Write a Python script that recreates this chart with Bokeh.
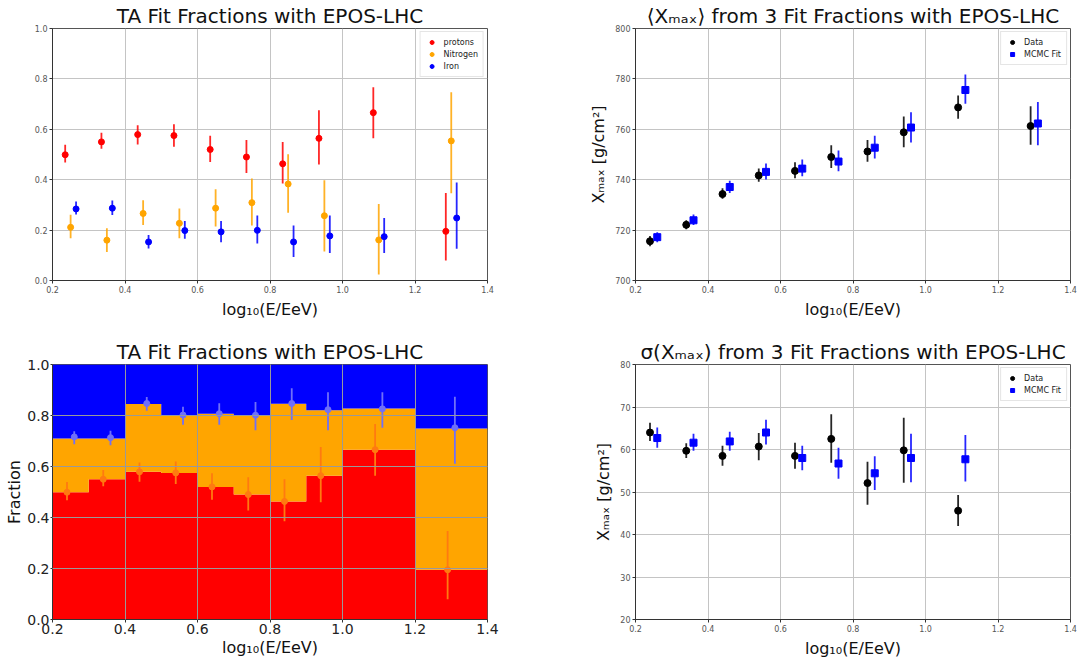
import numpy as np
from bokeh.plotting import figure
from bokeh.layouts import row, column
from bokeh.models import (FixedTicker, PrintfTickFormatter, Legend, LegendItem,
                          ColumnDataSource, Range1d)
from bokeh.embed import file_html
from bokeh.resources import INLINE

# ---------------- data ----------------
e_lo = [0.2, 0.3, 0.4, 0.5, 0.6, 0.7, 0.8, 0.9, 1.0, 1.2]
e_hi = [0.3, 0.4, 0.5, 0.6, 0.7, 0.8, 0.9, 1.0, 1.2, 1.4]
log_e = [0.25, 0.35, 0.45, 0.55, 0.65, 0.75, 0.85, 0.95, 1.1, 1.3]

p_frac = [0.499, 0.550, 0.579, 0.575, 0.520, 0.490, 0.463, 0.564, 0.666, 0.195]
p_lo = [0.468, 0.523, 0.540, 0.531, 0.470, 0.427, 0.385, 0.460, 0.564, 0.079]
p_hi = [0.539, 0.586, 0.616, 0.620, 0.574, 0.558, 0.550, 0.676, 0.767, 0.347]

n_frac = [0.211, 0.160, 0.266, 0.227, 0.287, 0.309, 0.383, 0.257, 0.161, 0.554]
n_lo = [0.168, 0.113, 0.220, 0.168, 0.214, 0.218, 0.269, 0.115, 0.024, 0.346]
n_hi = [0.261, 0.207, 0.318, 0.286, 0.362, 0.405, 0.501, 0.398, 0.304, 0.747]

fe_frac = [0.284, 0.287, 0.153, 0.198, 0.193, 0.199, 0.153, 0.177, 0.174, 0.248]
fe_lo = [0.262, 0.260, 0.127, 0.166, 0.152, 0.147, 0.093, 0.109, 0.109, 0.126]
fe_hi = [0.313, 0.317, 0.181, 0.236, 0.236, 0.258, 0.218, 0.258, 0.248, 0.389]

xm_data = [715.6, 722.1, 734.3, 741.7, 743.5, 749.0, 751.2, 758.8, 768.7, 761.3]
xm_data_lo = [713.6, 720.3, 732.4, 739.2, 740.6, 744.6, 747.1, 752.9, 764.2, 753.9]
xm_data_hi = [717.7, 723.9, 736.6, 744.4, 746.9, 753.7, 755.8, 765.1, 773.4, 769.1]
xm_fit = [717.2, 723.9, 737.1, 743.1, 744.4, 747.2, 752.7, 760.7, 775.6, 762.3]
xm_fit_lo = [715.2, 722.0, 734.7, 740.1, 741.4, 743.4, 748.4, 754.8, 770.1, 753.7]
xm_fit_hi = [719.1, 726.2, 739.6, 746.4, 748.0, 751.6, 757.4, 766.8, 781.7, 770.8]

nan = float("nan")
sg_data = [64.0, 59.7, 58.5, 60.7, 58.5, 62.5, 52.1, 59.8, 45.6, nan]
sg_data_lo = [62.0, 58.0, 56.2, 57.5, 55.5, 56.9, 47.0, 52.2, 42.0, nan]
sg_data_hi = [66.3, 61.5, 60.9, 63.9, 61.6, 68.3, 57.1, 67.5, 49.3, nan]
sg_fit = [62.7, 61.6, 61.9, 64.0, 58.0, 56.7, 54.4, 58.0, 57.7, nan]
sg_fit_lo = [60.4, 59.7, 59.7, 61.2, 55.1, 53.1, 50.5, 52.3, 52.5, nan]
sg_fit_hi = [65.2, 63.7, 64.2, 67.0, 60.9, 60.4, 58.4, 63.7, 63.4, nan]

x_ticks = [0.2, 0.4, 0.6, 0.8, 1.0, 1.2, 1.4]
frac_ticks = [0.0, 0.2, 0.4, 0.6, 0.8, 1.0]
xm_ticks = [700, 720, 740, 760, 780, 800]
sg_ticks = [20, 30, 40, 50, 60, 70, 80]

FONT = "DejaVu Sans"
RED, ORANGE, BLUE = "#ff0000", "#ffa500", "#0000ff"


def shift(xs, d):
    return [x + d for x in xs]


def make_fig(width, height, ml, mr, mt, mb, yr, yticks, yfmt, title,
             tick_size="8px", tick_color="#555555"):
    p = figure(width=width, height=height,
               x_range=Range1d(0.2, 1.4), y_range=Range1d(*yr),
               output_backend="svg", toolbar_location=None,
               min_border_left=ml, min_border_right=mr,
               min_border_top=mt, min_border_bottom=mb)
    p.title.text = title
    p.title.text_font = FONT
    p.title.text_font_size = "20px"
    p.title.text_font_style = "normal"
    p.title.align = "center"
    p.title.standoff = 2
    p.title.text_color = "#111111"
    p.xaxis.ticker = FixedTicker(ticks=x_ticks)
    p.yaxis.ticker = FixedTicker(ticks=yticks)
    p.xaxis.formatter = PrintfTickFormatter(format="%.1f")
    p.yaxis.formatter = PrintfTickFormatter(format=yfmt)
    for ax in (p.xaxis[0], p.yaxis[0]):
        ax.major_label_text_font = FONT
        ax.major_label_text_font_size = tick_size
        ax.major_label_text_color = tick_color
        ax.major_tick_out = 3
        ax.major_tick_in = 0
        ax.minor_tick_line_color = None
        ax.axis_line_color = "#333333"
        ax.major_tick_line_color = "#333333"
        ax.axis_label_text_font = FONT
        ax.axis_label_text_font_size = "16px"
        ax.axis_label_text_font_style = "normal"
        ax.axis_label_text_color = "#111111"
        ax.major_label_standoff = 2
        ax.axis_label_standoff = 4
    p.xaxis.axis_label = "log₁₀(E/EeV)"
    p.grid.grid_line_color = "#c4c4c4"
    p.grid.grid_line_width = 1
    p.outline_line_color = "#555555"
    return p


def errpoints(p, xs, ys, lo, hi, color, marker="circle", size=6, lalpha=0.85):
    src = ColumnDataSource(dict(x=xs, y=ys, lo=lo, hi=hi))
    p.segment(x0="x", y0="lo", x1="x", y1="hi", source=src,
              line_color=color, line_width=1.8, line_alpha=lalpha)
    return p.scatter(x="x", y="y", source=src, marker=marker, size=size,
                     fill_color=color, line_color=color)


# ---------------- top-left: fractions ----------------
p1 = make_fig(580, 335, 52, 93, 26, 55, (0.0, 1.0), frac_ticks, "%.1f",
              "TA Fit Fractions with EPOS-LHC")
r_p = errpoints(p1, shift(log_e, -0.015), p_frac, p_lo, p_hi, RED)
r_n = errpoints(p1, log_e, n_frac, n_lo, n_hi, ORANGE)
r_f = errpoints(p1, shift(log_e, 0.015), fe_frac, fe_lo, fe_hi, BLUE)
leg1 = Legend(items=[LegendItem(label="protons", renderers=[r_p]),
                     LegendItem(label="Nitrogen", renderers=[r_n]),
                     LegendItem(label="Iron", renderers=[r_f])],
              location="top_right")
p1.add_layout(leg1)

# ---------------- top-right: <Xmax> ----------------
p2 = make_fig(501, 335, 55, 11, 26, 55, (700, 800), xm_ticks, "%d",
              "⟨Xₘₐₓ⟩ from 3 Fit Fractions with EPOS-LHC")
p2.yaxis.axis_label = "Xₘₐₓ [g/cm²]"
r_d = errpoints(p2, shift(log_e, -0.01), xm_data, xm_data_lo, xm_data_hi,
                "#000000", size=7)
r_m = errpoints(p2, shift(log_e, 0.01), xm_fit, xm_fit_lo, xm_fit_hi,
                BLUE, marker="square", size=7)
leg2 = Legend(items=[LegendItem(label="Data", renderers=[r_d]),
                     LegendItem(label="MCMC Fit", renderers=[r_m])],
              location="top_right")
p2.add_layout(leg2)

# ---------------- bottom-left: stacked ----------------
p3 = make_fig(580, 326, 52, 93, 29, 42, (0.0, 1.0), frac_ticks, "%.1f",
              "TA Fit Fractions with EPOS-LHC", tick_size="14px",
              tick_color="#222222")
p3.yaxis.axis_label = "Fraction"
p3.yaxis.axis_label_standoff = 0
p3.yaxis.major_label_standoff = 1
p3.yaxis.major_tick_out = 2
pn = [a + b for a, b in zip(p_frac, n_frac)]
# step-area edges: bin lower edges plus the final upper edge
edges = e_lo + [e_hi[-1]]
red_top = p_frac + [p_frac[-1]]
orange_top = pn + [pn[-1]]
zeros = [0.0] * len(edges)
ones = [1.0] * len(edges)
p3.varea_step(x=edges, y1=zeros, y2=red_top, step_mode="after",
              fill_color=RED, level="underlay")
p3.varea_step(x=edges, y1=red_top, y2=orange_top, step_mode="after",
              fill_color=ORANGE, level="underlay")
p3.varea_step(x=edges, y1=orange_top, y2=ones, step_mode="after",
              fill_color=BLUE, level="underlay")
p3.grid.grid_line_color = "#999999"
p3.grid.level = "overlay"
p3.xaxis.major_label_standoff = 1
p3.xaxis.axis_label_standoff = 1
one_minus_fe = [1 - v for v in fe_frac]
one_minus_fe_lo = [1 - v for v in fe_hi]
one_minus_fe_hi = [1 - v for v in fe_lo]
errpoints(p3, shift(log_e, -0.01), p_frac, p_lo, p_hi, "#ff7a10", lalpha=1.0)
errpoints(p3, shift(log_e, 0.01), one_minus_fe, one_minus_fe_lo,
          one_minus_fe_hi, "#7070f8", lalpha=1.0)

# ---------------- bottom-right: sigma ----------------
p4 = make_fig(501, 326, 55, 11, 29, 42, (20, 80), sg_ticks, "%d",
              "σ(Xₘₐₓ) from 3 Fit Fractions with EPOS-LHC")
p4.yaxis.axis_label = "Xₘₐₓ [g/cm²]"
r_d4 = errpoints(p4, shift(log_e, -0.01), sg_data, sg_data_lo, sg_data_hi,
                 "#000000", size=7)
r_m4 = errpoints(p4, shift(log_e, 0.01), sg_fit, sg_fit_lo, sg_fit_hi,
                 BLUE, marker="square", size=7)
leg4 = Legend(items=[LegendItem(label="Data", renderers=[r_d4]),
                     LegendItem(label="MCMC Fit", renderers=[r_m4])],
              location="top_right")
p4.add_layout(leg4)

for lg in (leg1, leg2, leg4):
    lg.label_text_font = FONT
    lg.label_text_font_size = "8px"
    lg.label_text_color = "#222222"
    lg.glyph_width = 12
    lg.glyph_height = 10
    lg.label_height = 10
    lg.label_standoff = 6
    lg.spacing = 2
    lg.padding = 5
    lg.margin = 3
    lg.border_line_color = "#cccccc"
    lg.background_fill_alpha = 0.9

layout = column(row(p1, p2, spacing=0), row(p3, p4, spacing=0), spacing=0)
open("out.html", "w").write(file_html(layout, INLINE))
